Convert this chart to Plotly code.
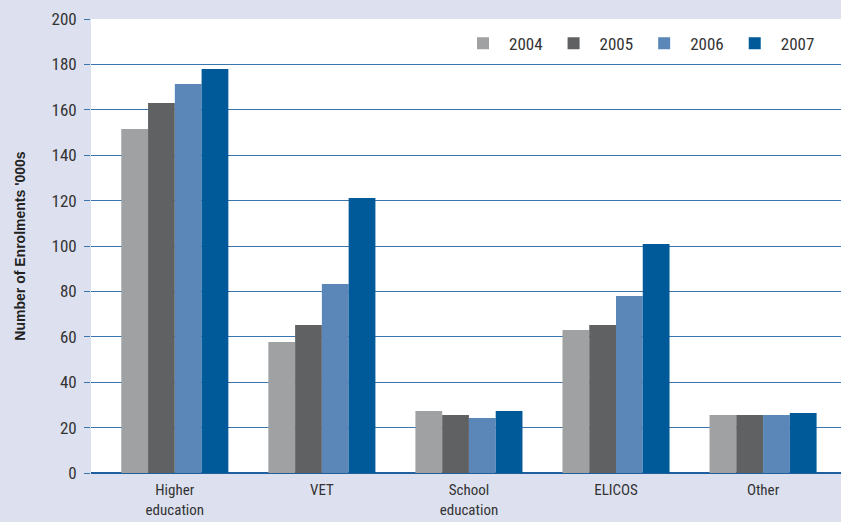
import plotly.graph_objects as go

categories = ["Higher<br>education", "VET", "School<br>education", "ELICOS", "Other"]
years = ["2004", "2005", "2006", "2007"]
enrol_2004 = [151.5, 57.7, 27.3, 63.0, 25.6]
enrol_2005 = [163.0, 65.2, 25.6, 65.2, 25.6]
enrol_2006 = [171.4, 83.3, 24.2, 78.0, 25.6]
enrol_2007 = [178.0, 121.1, 27.3, 100.9, 26.4]
colors = ["#a0a1a3", "#606163", "#5b87b8", "#005a99"]

FONT = "Liberation Sans Narrow, Roboto Condensed, Arial Narrow, sans-serif"
GRID = "#3a75ad"

fig = go.Figure()
for yr, vals, col in zip(years, [enrol_2004, enrol_2005, enrol_2006, enrol_2007], colors):
    fig.add_trace(go.Bar(x=categories, y=vals, name=yr, marker_color=col,
                         marker_line_width=0))

fig.update_layout(
    width=841, height=522,
    barmode="group", bargap=0.272, bargroupgap=0,
    paper_bgcolor="#dde1ef", plot_bgcolor="white",
    margin=dict(l=91, r=0, t=19, b=49),
    font=dict(family=FONT, size=15, color="#333333"),
    showlegend=True,
    legend=dict(orientation="h", x=0.972, xanchor="right", y=0.985, yanchor="top",
                bgcolor="white", font=dict(size=17, color="#333333"),
                itemwidth=42, traceorder="normal"),
)
fig.update_xaxes(range=[-0.57, 4.53], showgrid=False, ticks="", automargin=False,
                 tickfont=dict(size=15), ticklabelstandoff=6, fixedrange=True)
fig.update_yaxes(range=[0, 200], dtick=20, showgrid=True, gridcolor=GRID, gridwidth=1.3,
                 zeroline=True, zerolinecolor="#1f5f9e", zerolinewidth=1.5,
                 ticks="outside", ticklen=6, tickcolor=GRID, tickwidth=1.3,
                 tickfont=dict(size=17), ticksuffix=" ",
                 title=dict(text="<b>Number of Enrolments '000s</b>",
                            font=dict(family="Liberation Sans, Arial, sans-serif",
                                      size=14, color="#222222"), standoff=22))

# drop the default page margin so the figure sits at the window origin
fig.write_html("out.html", config={"displayModeBar": False},
               post_script="document.body.style.margin='0';")
